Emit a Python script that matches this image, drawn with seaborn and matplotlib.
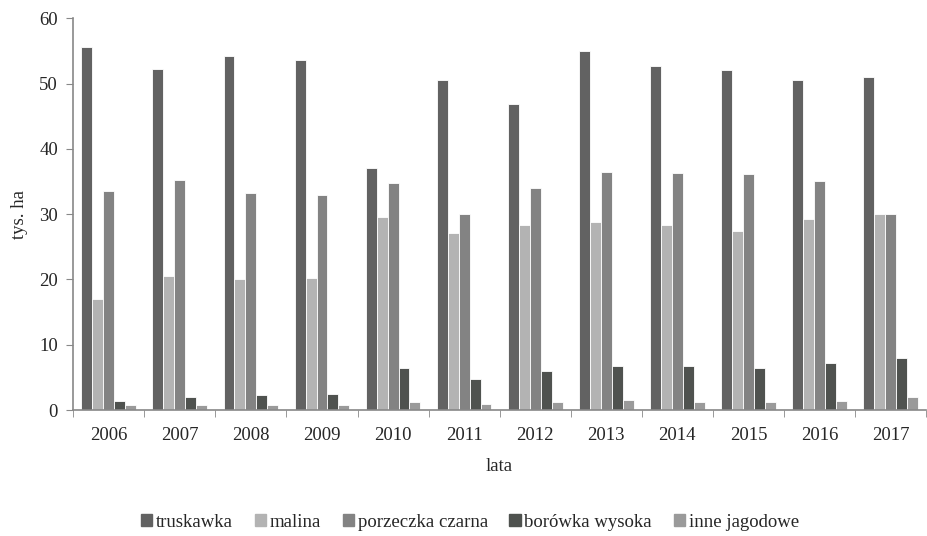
import matplotlib
matplotlib.use("Agg")
import matplotlib.pyplot as plt
import numpy as np
import pandas as pd
import seaborn as sns

years = ["2006", "2007", "2008", "2009", "2010", "2011",
         "2012", "2013", "2014", "2015", "2016", "2017"]
series = ["truskawka", "malina", "porzeczka czarna", "borówka wysoka", "inne jagodowe"]

truskawka = [55.6, 52.3, 54.2, 53.6, 37.1, 50.5, 46.8, 55.0, 52.7, 52.1, 50.6, 51.0]
malina = [17.0, 20.6, 20.0, 20.2, 29.5, 27.1, 28.4, 28.8, 28.3, 27.4, 29.3, 30.0]
porzeczka = [33.6, 35.2, 33.3, 32.9, 34.7, 30.0, 34.0, 36.5, 36.3, 36.1, 35.1, 30.0]
borowka = [1.4, 2.0, 2.3, 2.4, 6.4, 4.8, 6.0, 6.7, 6.7, 6.5, 7.2, 8.0]
inne = [0.7, 0.8, 0.8, 0.8, 1.2, 1.0, 1.3, 1.5, 1.3, 1.2, 1.4, 2.0]

colors = ["#626262", "#b3b3b3", "#838383", "#4f524f", "#9a9a9a"]

df = pd.DataFrame({
    "lata": years * 5,
    "seria": np.repeat(series, len(years)),
    "wartosc": truskawka + malina + porzeczka + borowka + inne,
})

sns.set_style("white")
plt.rcParams["font.family"] = ["Liberation Serif", "DejaVu Serif"]

fig = plt.figure(figsize=(9.27, 5.36), dpi=100)
ax = fig.add_axes([0.079, 0.235, 0.92, 0.731])

sns.barplot(data=df, x="lata", y="wartosc", hue="seria", hue_order=series,
            palette=colors, width=0.77, edgecolor="white", linewidth=0.6,
            saturation=1, ax=ax, legend=False)

ax.set_ylim(0, 60)
ax.set_xlim(-0.5, len(years) - 0.5)
ax.set_yticks(range(0, 61, 10))
ax.set_xticks(np.arange(-0.5, len(years), 1), minor=True)
ax.tick_params(axis="x", which="major", length=0, labelsize=13.5, pad=12)
ax.tick_params(axis="x", which="minor", length=5, color="#888888", direction="out", bottom=True)
ax.tick_params(axis="y", length=5, color="#888888", direction="out", left=True,
               labelsize=13.5, pad=6)

for side in ["top", "right"]:
    ax.spines[side].set_visible(False)
for side in ["left", "bottom"]:
    ax.spines[side].set_color("#888888")
    ax.spines[side].set_linewidth(1.2)

ax.set_xlabel("lata", fontsize=13.5, labelpad=10)
ax.set_ylabel("tys. ha", fontsize=13.5, labelpad=8)

handles = [plt.Rectangle((0, 0), 1, 1, color=c) for c in colors]
fig.legend(handles, series, loc="center", bbox_to_anchor=(0.507, 0.026), ncol=5,
           frameon=False, fontsize=13.5, handlelength=0.6, handleheight=0.6,
           handletextpad=0.2, columnspacing=1.15)

fig.savefig("out.png", dpi=100)
